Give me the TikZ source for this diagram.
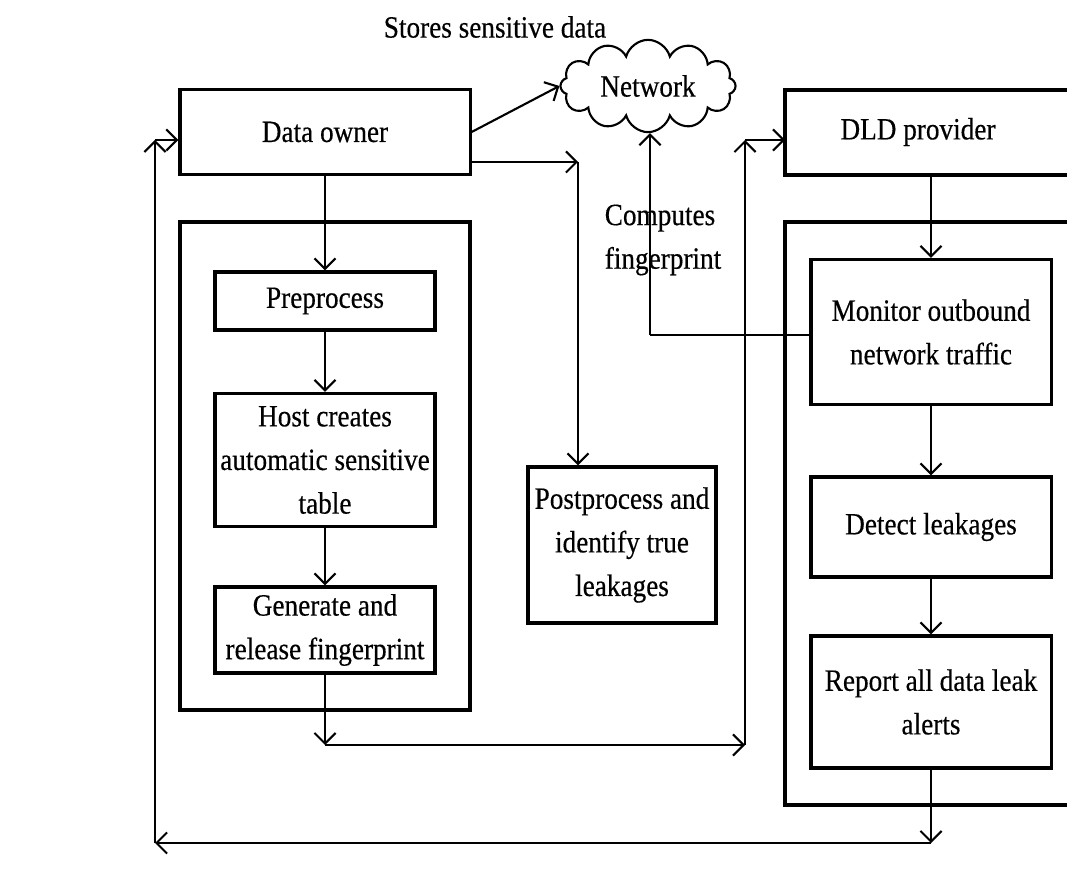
\documentclass[tikz,border=0pt]{standalone}
\usepackage{fontspec}
\setmainfont{Liberation Serif}[FakeStretch=0.88, FakeBold=0.4]
\usetikzlibrary{shapes.symbols,arrows.meta}

\begin{document}
\begin{tikzpicture}[x=0.01cm, y=-0.01cm, line width=0.6pt,
    >={Straight Barb[length=3pt,width=6pt]},
    font=\fontsize{8.8}{12.4}\selectfont]
   \useasboundingbox (0,0) rectangle (1067,877);
   \clip (0,0) rectangle (1067,877);

   % frames around the two columns
   \draw[line width=0.9pt] (180,222) rectangle (470,710);
   \draw[line width=0.9pt] (785,222) rectangle (1100,805);
   \draw[line width=0.9pt] (785,90) rectangle (1100,175);

   \begin{scope}[every node/.style={draw, line width=0.9pt, align=center, inner sep=1pt}]
    \node[minimum width=2.9cm, minimum height=0.85cm] (owner) at (325,132) {Data owner};
    \node[minimum width=2.2cm, minimum height=0.58cm] (pre) at (325,301) {Preprocess};
    \node[minimum width=2.2cm, minimum height=1.33cm] (host) at (325,460) {Host creates\\automatic sensitive\\table};
    \node[minimum width=2.2cm, minimum height=0.86cm] (gen) at (325,630) {Generate and\\release fingerprint};
    \node[minimum width=1.88cm, minimum height=1.56cm] (post) at (622,545) {Postprocess and\\identify true\\leakages};
    \node[minimum width=2.4cm, minimum height=1.45cm] (mon) at (931,332) {Monitor outbound\\network traffic};
    \node[minimum width=2.4cm, minimum height=1.0cm] (det) at (931,527) {Detect leakages};
    \node[minimum width=2.4cm, minimum height=1.32cm] (rep) at (931,702) {Report all data leak\\alerts};
    \node[cloud, cloud puffs=12, aspect=2.2, line width=0.6pt, minimum width=1.75cm, minimum height=0.92cm] (net) at (648,86) {Network};
   \end{scope}

   \node (dld) at (918,132) {DLD provider};
   \node (stores) at (495,27) {Stores sensitive data};
   \node[align=left, anchor=west] (comp) at (592,240) {Computes\\fingerprint};

   \coordinate (c1) at (578,162);
   \coordinate (c2) at (650,335);
   \coordinate (c3) at (325,745);
   \coordinate (c4) at (745,745);
   \coordinate (c5) at (745,140);
   \coordinate (dldw) at (785,140);
   \coordinate (dlds) at (931,175);
   \coordinate (c6) at (931,843);
   \coordinate (c7) at (155,843);
   \coordinate (c8) at (155,140);

   \begin{scope}[every edge/.style={draw=black, line width=0.6pt, ->}]
    \draw (owner) edge (pre);
    \draw (pre) edge (host);
    \draw (host) edge (gen);
    \draw (owner.east) edge (net.west);
    \draw (owner.east |- c1) edge (c1);
    \draw (c1) edge (c1 |- post.north);
    \draw (c2) edge (c2 |- net.south);
    \draw (gen.south) edge (c3);
    \draw (c3) edge (c4);
    \draw (c4) edge (c5);
    \draw (c5) edge (dldw);
    \draw (dlds) edge (mon.north);
    \draw (mon) edge (det);
    \draw (det) edge (rep);
    \draw (rep.south) edge (c6);
    \draw (c6) edge (c7);
    \draw (c7) edge (c8);
    \draw (c8) edge (c8 -| owner.west);
   \end{scope}
   \draw (c2) -- (c2 -| mon.west);
\end{tikzpicture}
\end{document}
